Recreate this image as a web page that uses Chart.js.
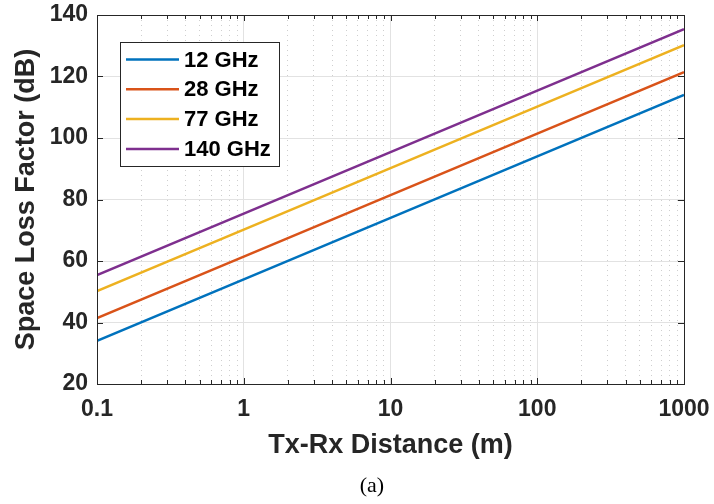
<!DOCTYPE html>
<html>
<head>
<meta charset="utf-8">
<script src="https://cdn.jsdelivr.net/npm/chart.js@4/dist/chart.umd.min.js"></script>
<style>
  body { margin: 0; background: #fff; }
  #wrap { position: relative; width: 714px; height: 504px; }
  #caption { position: absolute; left: 0; width: 744px; top: 472px; text-align: center;
             font-family: 'Liberation Serif', 'Times New Roman', serif; font-size: 22px; color: #000; }
</style>
</head>
<body>
<div id="wrap">
  <canvas id="grafico" width="714" height="504"></canvas>
  <div id="caption">(a)</div>
</div>
<script>
// datos
const distancias = [0.1, 1, 10, 100, 1000];
const perdida12 = [34.0, 54.0, 74.0, 94.0, 114.0];
const perdida28 = [41.4, 61.4, 81.4, 101.4, 121.4];
const perdida77 = [50.2, 70.2, 90.2, 110.2, 130.2];
const perdida140 = [55.4, 75.4, 95.4, 115.4, 135.4];
const etiquetas = ['12 GHz', '28 GHz', '77 GHz', '140 GHz'];
const colores = ['#0072BD', '#D95319', '#EDB120', '#7E2F8E'];
const ticksX = ['0.1', '1', '10', '100', '1000'];
const ticksY = [20, 40, 60, 80, 100, 120, 140];

const series = [perdida12, perdida28, perdida77, perdida140];
const TEXTO = '#262626';
const FUENTE = "'Liberation Sans', Arial, Helvetica, sans-serif";

function esMayor(v) {
    const l = Math.log10(v);
    return Math.abs(l - Math.round(l)) < 1e-9;
}

// marcas del eje x: 1..9 x 10^n
const marcasX = [];
for (let e = -1; e <= 2; e++) {
    for (let m = 1; m <= 9; m++) {
        marcasX.push(parseFloat((m * Math.pow(10, e)).toPrecision(3)));
    }
}
marcasX.push(1000);

const cajaYMarcas = {
    id: 'cajaYMarcas',
    afterDraw(chart) {
        const ctx = chart.ctx;
        const a = chart.chartArea;
        const sx = chart.scales.x, sy = chart.scales.y;
        ctx.save();
        ctx.strokeStyle = TEXTO;
        ctx.lineWidth = 1;
        ctx.beginPath();
        // marcas hacia dentro
        ticksY.forEach(v => {
            const y = Math.round(sy.getPixelForValue(v)) + 0.5;
            ctx.moveTo(a.left, y); ctx.lineTo(a.left + 6, y);
            ctx.moveTo(a.right, y); ctx.lineTo(a.right - 6, y);
        });
        marcasX.forEach(v => {
            const x = Math.round(sx.getPixelForValue(v)) + 0.5;
            const largo = esMayor(v) ? 6 : 4;
            ctx.moveTo(x, a.bottom); ctx.lineTo(x, a.bottom - largo);
            ctx.moveTo(x, a.top); ctx.lineTo(x, a.top + largo);
        });
        ctx.stroke();
        ctx.strokeRect(Math.round(a.left) + 0.5, Math.round(a.top) + 0.5,
            Math.round(a.right - a.left), Math.round(a.bottom - a.top));

        // leyenda
        const lx = 120, ly = 42, lw = 159, lh = 124;
        ctx.fillStyle = '#fff';
        ctx.fillRect(lx, ly, lw, lh);
        ctx.strokeStyle = TEXTO;
        ctx.strokeRect(lx + 0.5, ly + 0.5, lw, lh);
        ctx.font = 'bold 22px ' + FUENTE;
        ctx.textBaseline = 'middle';
        ctx.textAlign = 'left';
        chart.data.datasets.forEach((ds, i) => {
            const y = 59.5 + i * 29.8;
            ctx.strokeStyle = ds.borderColor;
            ctx.lineWidth = 2.5;
            ctx.beginPath();
            ctx.moveTo(126, y); ctx.lineTo(179, y);
            ctx.stroke();
            ctx.fillStyle = '#000';
            ctx.fillText(ds.label, 184, y + 1);
        });
        ctx.restore();
    }
};

new Chart(document.getElementById('grafico').getContext('2d'), {
    type: 'line',
    data: {
        datasets: series.map((s, i) => ({
            label: etiquetas[i],
            data: distancias.map((d, j) => ({ x: d, y: s[j] })),
            borderColor: colores[i],
            backgroundColor: colores[i],
            borderWidth: 2.5,
            pointRadius: 0,
            tension: 0
        }))
    },
    options: {
        responsive: false,
        animation: false,
        layout: { padding: { top: 15, right: 30, bottom: 0, left: 0 } },
        plugins: { legend: { display: false }, tooltip: { enabled: false } },
        scales: {
            x: {
                type: 'logarithmic',
                min: 0.1,
                max: 1000,
                afterBuildTicks: scale => {
                    scale.ticks = marcasX.map(v => ({ value: v }));
                },
                afterFit: scale => {
                    scale.height = 120;
                    scale.paddingLeft = 0;
                    scale.paddingRight = 0;
                },
                ticks: {
                    autoSkip: false,
                    maxRotation: 0,
                    padding: 12,
                    color: TEXTO,
                    font: { family: FUENTE, size: 23, weight: 'bold' },
                    callback: v => esMayor(v) ? ticksX[Math.round(Math.log10(v)) + 1] : ''
                },
                grid: {
                    drawTicks: false,
                    color: c => esMayor(c.tick.value) ? '#e2e2e2' : '#cfcfcf',
                    lineWidth: 1
                },
                border: {
                    display: false,
                    dash: c => (c.tick && !esMayor(c.tick.value)) ? [1, 4] : []
                },
                title: {
                    display: true,
                    text: 'Tx-Rx Distance (m)',
                    color: TEXTO,
                    font: { family: FUENTE, size: 27, weight: 'bold' },
                    padding: { top: 0, bottom: 42 }
                }
            },
            y: {
                min: 20,
                max: 140,
                afterFit: scale => {
                    scale.width = 97;
                    scale.paddingTop = 0;
                    scale.paddingBottom = 0;
                },
                ticks: {
                    stepSize: 20,
                    padding: 9,
                    color: TEXTO,
                    font: { family: FUENTE, size: 23, weight: 'bold' }
                },
                grid: { drawTicks: false, color: '#e2e2e2', lineWidth: 1 },
                border: { display: false },
                title: {
                    display: true,
                    text: 'Space Loss Factor (dB)',
                    color: TEXTO,
                    font: { family: FUENTE, size: 27, weight: 'bold' },
                    padding: { top: 10, bottom: 0 }
                }
            }
        }
    },
    plugins: [cajaYMarcas]
});
</script>
</body>
</html>
